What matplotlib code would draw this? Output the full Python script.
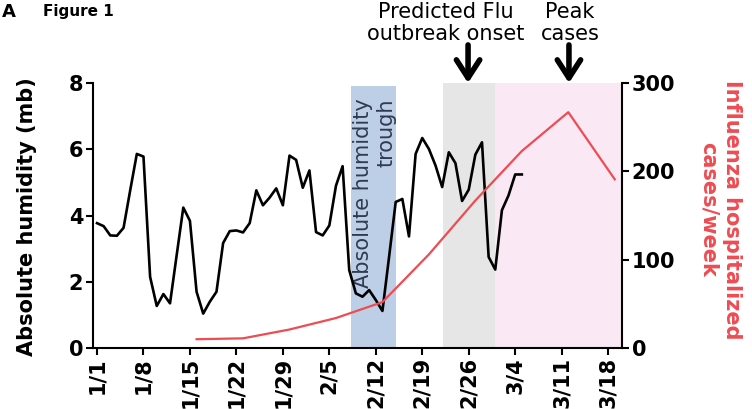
import matplotlib
matplotlib.use('Agg')
import matplotlib.pyplot as plt

plt.rcParams['font.family'] = ['DejaVu Sans']

# absolute humidity, one value per day from 1/1
hum_days = list(range(65))
humidity = [3.77, 3.68, 3.40, 3.39, 3.63, 4.76, 5.86, 5.78, 2.15, 1.27,
            1.63, 1.35, 2.80, 4.24, 3.84, 1.70, 1.04, 1.40, 1.70, 3.17,
            3.53, 3.55, 3.49, 3.77, 4.76, 4.31, 4.54, 4.82, 4.31, 5.81,
            5.68, 4.84, 5.36, 3.50, 3.40, 3.70, 4.90, 5.49, 2.35, 1.65,
            1.55, 1.75, 1.45, 1.12, 2.75, 4.41, 4.50, 3.37, 5.86, 6.34,
            6.01, 5.51, 4.86, 5.91, 5.58, 4.44, 4.78, 5.84, 6.21, 2.75,
            2.37, 4.16, 4.61, 5.24, 5.24]

# weekly flu hospitalizations
flu_days = [15, 22, 29, 36, 43, 50, 57, 64, 71, 78]
flu_cases = [10, 11, 21, 34, 52, 106, 167, 223, 267, 191]

tick_days = [0, 7, 14, 21, 28, 35, 42, 49, 56, 63, 70, 77]
tick_labels = ['1/1', '1/8', '1/15', '1/22', '1/29', '2/5', '2/12',
               '2/19', '2/26', '3/4', '3/11', '3/18']

trough = (38.3, 45.0)
onset = (52.1, 59.9)
season = (59.9, 79.1)
onset_arrow = 55.9
peak_arrow = 71.1

red = '#ef4b52'

fig = plt.figure(figsize=(7.52, 4.09), dpi=100)
ax = fig.add_axes([0.1237, 0.149, 0.7035, 0.648])

ax.axvspan(*trough, ymax=0.99, color='#bdcfe6', lw=0, zorder=0)
ax.axvspan(*onset, color='#e6e6e6', lw=0, zorder=0)
ax.axvspan(*season, color='#fae9f5', lw=0, zorder=0)

ax.plot(hum_days, humidity, color='black', lw=1.9, zorder=3)
ax.text(sum(trough) / 2 + 0.2, 4.68, 'Absolute humidity\ntrough', rotation=90,
        ha='center', va='center', multialignment='right',
        fontsize=15, color='#2e3b50', zorder=2)

ax.set_xlim(-0.6, 79.1)
ax.set_ylim(0, 8)
ax.set_xticks(tick_days)
ax.set_xticklabels(tick_labels, rotation=90, fontweight='bold', fontsize=15)
ax.set_yticks([0, 2, 4, 6, 8])
ax.tick_params(axis='both', width=1.5, length=5, labelsize=15)
ax.tick_params(axis='x', pad=1.5)
ax.tick_params(axis='y', pad=2)
for lab in ax.get_yticklabels():
    lab.set_fontweight('bold')
ax.spines['top'].set_visible(False)
ax.spines['right'].set_visible(False)
for s in ['left', 'bottom']:
    ax.spines[s].set_linewidth(1.5)

ax2 = ax.twinx()
ax2.plot(flu_days, flu_cases, color=red, lw=1.6, zorder=3)
ax2.set_ylim(0, 300)
ax2.set_yticks([0, 100, 200, 300])
ax2.tick_params(axis='y', width=1.5, length=5, labelsize=15, pad=2)
for lab in ax2.get_yticklabels():
    lab.set_fontweight('bold')
ax2.spines['top'].set_visible(False)
ax2.spines['left'].set_visible(False)
ax2.spines['bottom'].set_visible(False)
ax2.spines['right'].set_linewidth(1.5)

fig.text(0.036, 0.47, 'Absolute humidity (mb)', rotation=90, ha='center',
         va='center', fontsize=15, fontweight='bold')
fig.text(0.958, 0.487, 'Influenza hospitalized\ncases/week', rotation=270,
         ha='center', va='center', multialignment='center',
         fontsize=15, fontweight='bold', color=red)

for xd in [onset_arrow, peak_arrow]:
    ax.annotate('', xy=(xd, 8.0), xytext=(xd, 9.15),
                arrowprops=dict(arrowstyle='->,head_length=0.65,head_width=0.42',
                                lw=4, color='black', mutation_scale=20,
                                shrinkA=0, shrinkB=0),
                annotation_clip=False)

fig.text(0.593, 0.944, 'Predicted Flu\noutbreak onset', ha='center',
         va='center', fontsize=15, linespacing=1.1)
fig.text(0.758, 0.944, 'Peak\ncases', ha='center', va='center',
         fontsize=15, linespacing=1.1)

fig.text(0.002, 0.958, 'A', fontsize=13, fontweight='bold')
fig.text(0.057, 0.961, 'Figure 1', fontsize=11, fontweight='bold')

fig.savefig('out.png', dpi=100)
